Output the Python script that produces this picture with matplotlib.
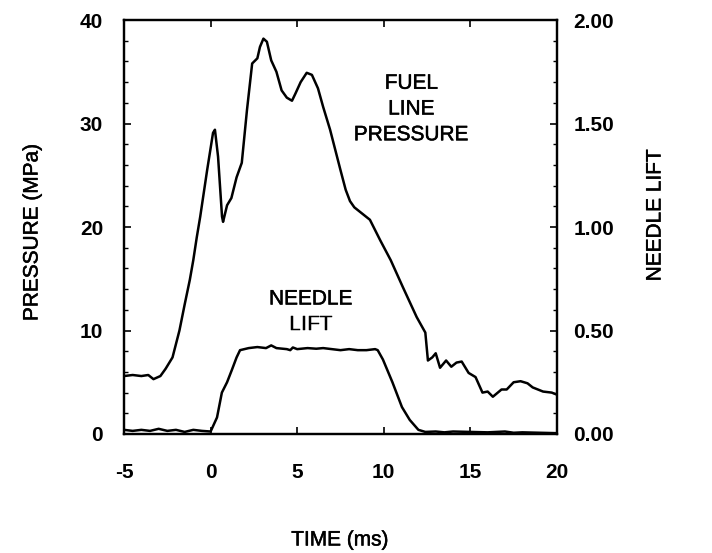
import numpy as np
import matplotlib
matplotlib.use("Agg")
import matplotlib.pyplot as plt
import matplotlib.patheffects as pe
from matplotlib.ticker import MultipleLocator, FormatStrFormatter

plt.rcParams['font.family'] = ['Liberation Sans', 'DejaVu Sans']
plt.rcParams['axes.unicode_minus'] = False

# fuel line pressure (MPa) vs time (ms)
p_time = [-5.0, -4.5, -4.0, -3.6, -3.3, -2.9, -2.6, -2.2, -1.8, -1.5, -1.2, -1.0, -0.8,
          -0.6, -0.2, 0.14, 0.25, 0.43, 0.66, 0.72, 0.95, 1.2, 1.5, 1.8, 2.1, 2.4, 2.7,
          2.85, 3.05, 3.25, 3.5, 3.8, 4.1, 4.4, 4.7, 4.9, 5.2, 5.55, 5.85, 6.2, 6.5,
          6.9, 7.5, 7.8, 8.05, 8.3, 8.6, 9.2, 9.8, 10.4, 11.1, 11.9, 12.4, 12.55, 12.8, 13.0,
          13.25, 13.6, 13.9, 14.2, 14.5, 14.9, 15.3, 15.7, 16.0, 16.3, 16.8, 17.1,
          17.5, 17.9, 18.3, 18.6, 19.2, 19.7, 20.0]
pressure = [5.6, 5.7, 5.6, 5.7, 5.3, 5.6, 6.3, 7.4, 10.0, 12.5, 14.9, 16.8, 19.0,
            21.0, 25.5, 29.1, 29.4, 26.8, 21.0, 20.5, 22.1, 22.8, 24.8, 26.2, 31.3, 35.8, 36.3,
            37.4, 38.2, 37.9, 36.1, 35.0, 33.2, 32.5, 32.2, 32.9, 34.0, 34.9, 34.7, 33.4, 31.6,
            29.4, 25.5, 23.6, 22.5, 21.9, 21.5, 20.7, 18.7, 16.8, 14.2, 11.3, 9.8, 7.1, 7.4, 7.8,
            6.4, 7.1, 6.5, 6.9, 7.0, 5.9, 5.5, 4.0, 4.1, 3.6, 4.3, 4.3,
            5.0, 5.1, 4.9, 4.5, 4.1, 4.0, 3.8]

# needle lift vs time (ms)
n_time = [-5.0, -4.5, -4.0, -3.5, -3.0, -2.5, -2.0, -1.5, -1.0, -0.5, 0.0, 0.37, 0.65,
          0.95, 1.23, 1.5, 1.7, 2.2, 2.7, 3.2, 3.5, 3.8, 4.4, 4.6, 4.75, 5.0, 5.6, 6.1,
          6.5, 7.0, 7.5, 8.0, 8.5, 9.0, 9.5, 9.65, 9.95, 10.5, 11.05, 11.5, 12.0, 12.4,
          13.0, 13.5, 14.0, 15.0, 16.0, 17.0, 17.5, 18.0, 19.0, 20.0]
lift = [0.02, 0.015, 0.02, 0.015, 0.025, 0.015, 0.02, 0.01, 0.02, 0.015, 0.012, 0.08, 0.2,
        0.25, 0.31, 0.37, 0.405, 0.415, 0.42, 0.415, 0.428, 0.415, 0.41, 0.405, 0.418, 0.41, 0.415, 0.412,
        0.415, 0.41, 0.405, 0.41, 0.405, 0.405, 0.41, 0.405, 0.36, 0.25, 0.13, 0.068, 0.02, 0.01,
        0.012, 0.008, 0.012, 0.01, 0.008, 0.012, 0.006, 0.008, 0.006, 0.004]

fig = plt.figure(figsize=(7.12, 5.53), dpi=100)
ax = fig.add_axes([0.1742, 0.2152, 0.608, 0.7486])
ax2 = ax.twinx()

ax.plot(p_time, pressure, color='black', lw=1.8)
ax2.plot(n_time, lift, color='black', lw=1.8)

ax.set_xlim(-5, 20)
ax.set_ylim(0, 40)
ax2.set_ylim(0, 2.0)

ax.xaxis.set_major_locator(MultipleLocator(5))
ax.yaxis.set_major_locator(MultipleLocator(10))
ax.yaxis.set_minor_locator(MultipleLocator(2))
ax2.yaxis.set_major_locator(MultipleLocator(0.5))
ax2.yaxis.set_minor_locator(MultipleLocator(0.1))
ax2.yaxis.set_major_formatter(FormatStrFormatter('%.2f'))

ax.tick_params(axis='x', direction='in', top=True, length=5, width=1.2, pad=21,
               labelsize=15)
ax.tick_params(axis='y', which='major', direction='in', length=5, width=1.2, pad=15,
               labelsize=15)
ax.tick_params(axis='y', which='minor', direction='in', length=3, width=1.0)
ax2.tick_params(axis='y', which='major', direction='in', length=5, width=1.2, pad=12,
                labelsize=15)
ax2.tick_params(axis='y', which='minor', direction='in', length=3, width=1.0)
for lab in ax.get_xticklabels() + ax.get_yticklabels() + ax2.get_yticklabels():
    lab.set_fontweight('bold')

for a in (ax, ax2):
    for s in a.spines.values():
        s.set_linewidth(1.6)

# scanned lettering is a bit heavier than regular weight
thick = [pe.withStroke(linewidth=0.35, foreground='black')]

ax.text(11.6, 31.4, "FUEL\nLINE\nPRESSURE", ha='center', va='center', fontsize=15,
        linespacing=1.45, path_effects=thick)
ax.text(5.8, 11.8, "NEEDLE\nLIFT", ha='center', va='center', fontsize=15,
        linespacing=1.45, path_effects=thick)

fig.text(340 / 712, 1 - 540 / 553, "TIME (ms)", ha='center', va='center', fontsize=15,
         path_effects=thick)
fig.text(32 / 712, 1 - 232 / 553, "PRESSURE (MPa)", ha='center', va='center',
         rotation=90, fontsize=15, path_effects=thick)
fig.text(655 / 712, 1 - 215 / 553, "NEEDLE LIFT", ha='center', va='center',
         rotation=90, fontsize=15, path_effects=thick)

fig.savefig("out.png", dpi=100)
